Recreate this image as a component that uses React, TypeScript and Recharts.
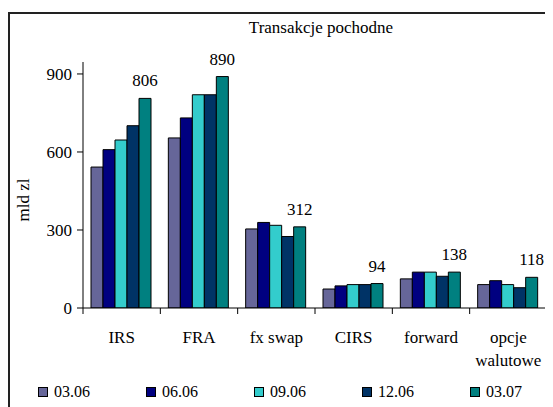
import React from 'react';
import { BarChart, Bar, XAxis, YAxis, Legend, LabelList, Label } from 'recharts';

const categories = ['IRS', 'FRA', 'fx swap', 'CIRS', 'forward', 'opcje\nwalutowe'];
const seriesNames = ['03.06', '06.06', '09.06', '12.06', '03.07'];
const seriesColors = ['#666699', '#000080', '#33CCCC', '#003366', '#008080'];
const s0306 = [542, 654, 304, 73, 112, 90];
const s0606 = [609, 731, 329, 85, 138, 105];
const s0906 = [646, 820, 318, 90, 138, 90];
const s1206 = [701, 820, 275, 90, 122, 78];
const s0307 = [806, 890, 312, 94, 138, 118];
const yTicks = [0, 300, 600, 900];
const title = 'Transakcje pochodne';
const yLabel = 'mld zl';

const seriesValues = [s0306, s0606, s0906, s1206, s0307];
const data = categories.map((cat, i) => {
  const row: Record<string, any> = { cat };
  seriesNames.forEach((n, j) => {
    row[n] = seriesValues[j][i];
  });
  return row;
});

const FONT = "'Liberation Serif', Tinos, 'DejaVu Serif', serif";
const txt = { fontFamily: FONT, fontSize: 17, fill: '#000' };

const CatTick = (props: any) => {
  const { x, y, payload, index } = props;
  const off = payload && payload.offset ? payload.offset : 38.67;
  const lines = String(payload.value).split('\n');
  return (
    <g>
      <line x1={x - off} y1={y} x2={x - off} y2={y + 6} stroke="#000" strokeWidth={1} />
      {index === categories.length - 1 && (
        <line x1={x + off} y1={y} x2={x + off} y2={y + 6} stroke="#000" strokeWidth={1} />
      )}
      {lines.map((l, i) => (
        <text key={i} x={x} y={y + 35 + i * 23} textAnchor="middle" style={txt}>
          {l}
        </text>
      ))}
    </g>
  );
};

const LegendContent = (props: any) => {
  const payload = props.payload || [];
  return (
    <div style={{ display: 'flex', height: 30, alignItems: 'center', fontFamily: FONT, fontSize: 16, color: '#000' }}>
      {payload.map((p: any, i: number) => (
        <div key={i} style={{ width: 108, display: 'flex', alignItems: 'center' }}>
          <span style={{ display: 'inline-block', width: 8, height: 8, background: p.color, border: '1px solid #000', marginRight: 6 }} />
          <span>{p.value}</span>
        </div>
      ))}
    </div>
  );
};

export default function App() {
  return (
    <div style={{ position: 'relative', width: 545, height: 399, overflow: 'hidden', background: '#fff', fontFamily: FONT }}>
      <div style={{ position: 'absolute', left: 0, top: 4, width: 700, height: 600, border: '2px solid #222', boxSizing: 'border-box' }} />
      <div style={{ position: 'absolute', left: 163, top: 10, width: 300, textAlign: 'center', fontFamily: FONT, fontSize: 17, lineHeight: '20px', color: '#000' }}>
        {title}
      </div>
      <div style={{ position: 'absolute', left: 0, top: 0 }}>
        <BarChart width={545} height={399} data={data} margin={{ top: 54, right: 6, bottom: 0, left: 0 }} barCategoryGap={8} barGap={0} style={{ fontFamily: FONT }}>
          <XAxis dataKey="cat" height={69} tick={<CatTick />} tickLine={false} tickSize={0} tickMargin={0} axisLine={{ stroke: '#000' }} interval={0} />
          <YAxis
            width={75}
            domain={[0, 946]}
            ticks={yTicks}
            allowDataOverflow
            tickSize={6}
            tickMargin={5}
            axisLine={{ stroke: '#000' }}
            tickLine={{ stroke: '#000' }}
            tick={{ fill: '#000', fontSize: 17, style: { fontFamily: FONT } }}
          >
            <Label
              content={() => (
                <text x={15} y={192} transform="rotate(-90 15 192)" textAnchor="middle" dominantBaseline="central" style={txt}>
                  {yLabel}
                </text>
              )}
            />
          </YAxis>
          <Legend
            verticalAlign="bottom"
            height={30}
            content={<LegendContent />}
            itemSorter={(item: any) => seriesNames.indexOf(item.value)}
            wrapperStyle={{ left: 30, width: 540, height: 30 }}
          />
          {seriesNames.map((n, j) => (
            <Bar key={n} dataKey={n} name={n} fill={seriesColors[j]} stroke="#000" strokeWidth={1} isAnimationActive={false}>
              {j === seriesNames.length - 1 && (
                <LabelList dataKey={n} position="top" offset={12} fill="#000" fontSize={17} style={{ fontFamily: FONT }} />
              )}
            </Bar>
          ))}
        </BarChart>
      </div>
    </div>
  );
}
